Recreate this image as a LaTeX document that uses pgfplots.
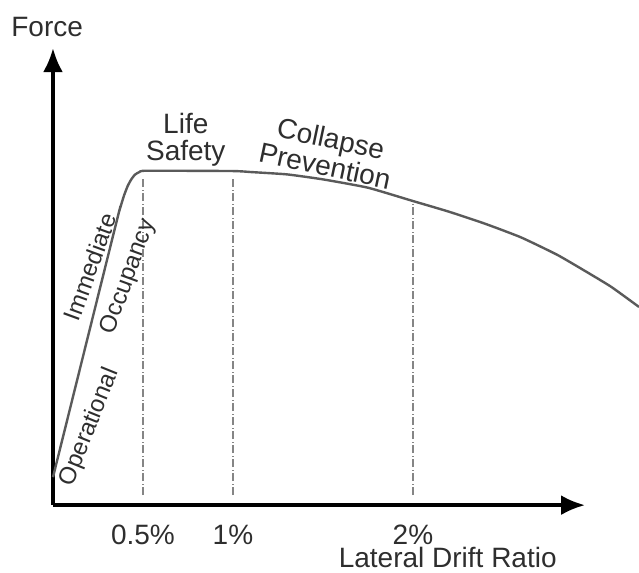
\documentclass[border=0pt]{standalone}
\usepackage{fontspec}
\setmainfont{Liberation Sans}
\usepackage{pgfplots}
\pgfplotsset{compat=1.18}
\usetikzlibrary{arrows.meta}

\definecolor{txt}{HTML}{2E2E2E}
\definecolor{curvegray}{HTML}{5A5A5A}
\definecolor{limitgray}{HTML}{858585}

\begin{document}
\begin{tikzpicture}
\begin{axis}[
  scale only axis,
  width=266pt, height=228.5pt,
  xmin=0, xmax=2.956, ymin=0, ymax=1.372,
  enlargelimits=false,
  clip=false,
  axis lines=left,
  axis line style={line width=1.7pt, -{Latex[length=12pt,width=10pt]}},
  xtick={0.5,1,2},
  xticklabels={0.5\%,1\%,2\%},
  ytick=\empty,
  major tick length=0pt,
  xticklabel style={anchor=center, yshift=-15pt, text=txt,
    font=\fontsize{14}{14}\selectfont},
  xlabel={Lateral Drift Ratio},
  xlabel style={at={(axis description cs:0.742,-0.114)}, anchor=center,
    text=txt, font=\fontsize{14}{14}\selectfont},
  ylabel={Force},
  ylabel style={at={(axis description cs:-0.011,1.046)}, anchor=center,
    rotate=-90, text=txt, font=\fontsize{14}{14}\selectfont},
  limitline/.style={limitgray, line width=1.4pt,
    dash pattern=on 4pt off 1.2pt on 0.6pt off 1.2pt},
]
% performance limits
\addplot[limitline] coordinates {(0.5,0.03) (0.5,0.985)};
\addplot[limitline] coordinates {(1,0.03) (1,0.985)};
\addplot[limitline] coordinates {(2,0.03) (2,0.905)};

% capacity curve
\addplot[curvegray, line width=1.2pt, smooth, tension=0.3] coordinates {
(0,0.084)
(0.355,0.855)
(0.375,0.895)
(0.395,0.930)
(0.415,0.958)
(0.435,0.978)
(0.455,0.992)
(0.48,1.0)
(0.52,1.004)
(1.0,1.003)
(1.1,1.0)
(1.3,0.993)
(1.5,0.978)
(1.75,0.953)
(2.0,0.913)
(2.2,0.881)
(2.4,0.845)
(2.6,0.804)
(2.8,0.752)
(2.95,0.705)
(3.1,0.656)
(3.256,0.595)
};

\node[text=txt, align=center, font=\fontsize{14}{13.5}\selectfont]
  at (axis cs:0.738,1.096) {Life\\Safety};
\node[text=txt, align=center, rotate=-12, font=\fontsize{14}{14}\selectfont]
  at (axis cs:1.528,1.060) {Collapse\\Prevention};
\node[text=txt, rotate=70, font=\fontsize{12}{12}\selectfont]
  at (axis cs:0.206,0.715) {Immediate};
\node[text=txt, rotate=70, font=\fontsize{12}{12}\selectfont]
  at (axis cs:0.42,0.685) {Occupancy};
\node[text=txt, rotate=68, font=\fontsize{12}{12}\selectfont]
  at (axis cs:0.205,0.234) {Operational};

\coordinate (bl) at (axis cs:-0.2944,-0.2012);
\coordinate (tr) at (axis cs:3.256,1.5165);
\end{axis}
\pgfresetboundingbox
\path (bl) rectangle (tr);
\end{tikzpicture}
\end{document}
